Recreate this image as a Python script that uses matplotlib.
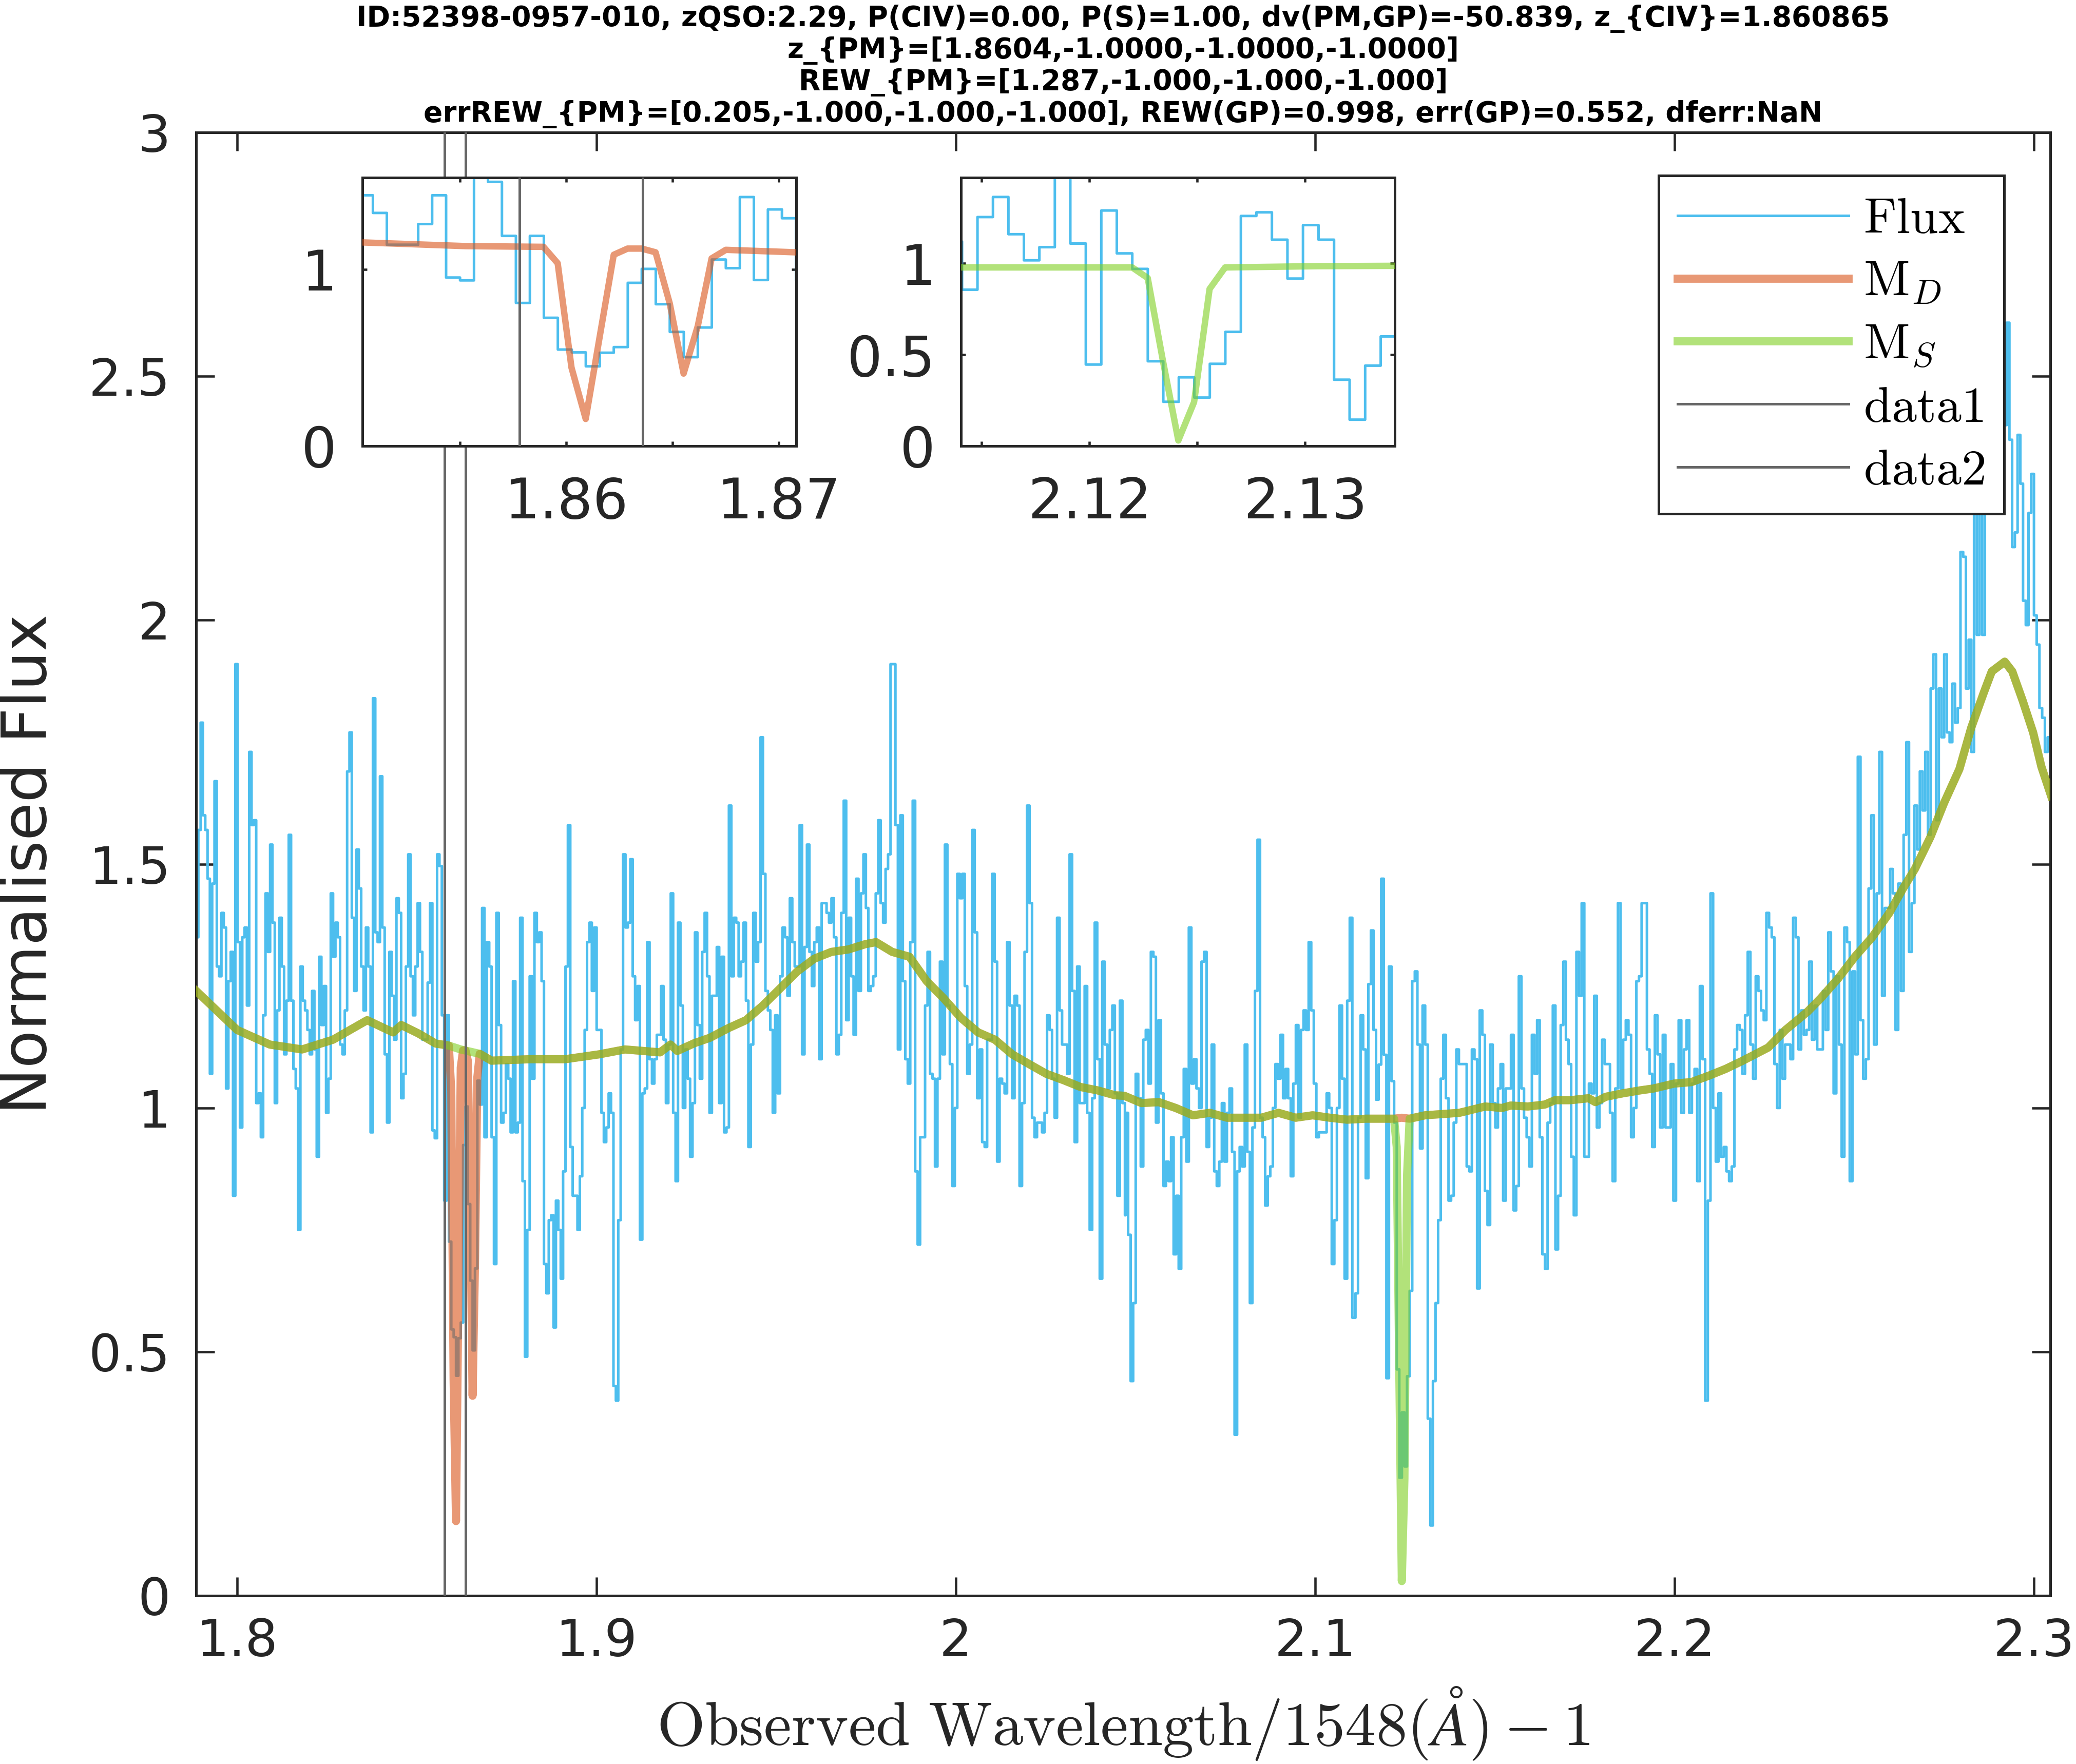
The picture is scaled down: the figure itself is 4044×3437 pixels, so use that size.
import numpy as np
import matplotlib
matplotlib.use("Agg")
import matplotlib.pyplot as plt

plt.rcParams['font.family'] = ['DejaVu Sans']
plt.rcParams['mathtext.fontset'] = 'cm'

# ── data ─────────────────────────────────────────────────────────────────────
# flux segments: start redshift of each segment + normalised flux per pixel
seg_z0 = [1.78857, 1.85303, 1.91799, 1.98320, 2.04726, 2.11122, 2.17620, 2.24130]
z_end = 2.3046

flux_s1 = [1.35, 1.57, 1.79, 1.60, 1.57, 1.47, 1.07, 1.46, 1.67, 1.29,
           1.27, 1.40, 1.37, 1.04, 1.26, 1.32, 0.82, 1.91, 1.34, 0.96,
           1.35, 1.37, 1.21, 1.73, 1.58, 1.59, 1.01, 1.03, 0.94, 1.19,
           1.44, 1.32, 1.54, 1.38, 1.01, 1.20, 1.39, 1.29, 1.11, 1.22,
           1.56, 1.22, 1.08, 1.04, 0.75, 1.29, 1.22, 1.20, 1.16, 1.11,
           1.24, 1.12, 0.90, 1.31, 1.17, 1.25, 0.99, 1.06, 1.44, 1.31,
           1.38, 1.35, 1.13, 1.11, 1.20, 1.69, 1.77, 1.39, 1.24, 1.53,
           1.45, 1.29, 1.20, 1.37, 1.29, 0.95, 1.84, 1.36, 1.34, 1.68,
           1.37, 1.11, 0.97, 1.32, 1.23, 1.14, 1.43, 1.40, 1.02, 1.07,
           1.29, 1.52, 1.27, 1.19, 1.29, 1.42, 1.32, 1.14]
flux_s2 = [1.257, 1.42, 0.954, 0.938, 1.52, 1.496, 1.19, 0.81, 1.19, 0.726,
           0.546, 0.53, 0.451, 0.528, 0.56, 0.924, 1.003, 0.803, 0.646, 0.503,
           0.671, 1.056, 1.007, 1.41, 0.94, 1.34, 1.29, 0.94,
           0.68, 1.40, 1.17, 0.97, 0.99, 1.09, 1.06, 0.95, 1.26, 0.95,
           0.97, 1.39, 0.85, 0.49, 0.75, 1.27, 1.06, 1.40, 1.34, 1.36,
           1.26, 0.68, 0.62, 0.77, 0.78, 0.55, 0.81, 0.75, 0.65, 0.87,
           1.29, 1.58, 0.92, 0.82, 0.82, 0.75, 0.86, 1.00, 1.16, 1.34,
           1.38, 1.24, 1.37, 1.16, 1.16, 0.99, 0.93, 0.96, 1.03, 0.99,
           0.43, 0.40, 0.77, 1.12, 1.52, 1.37, 1.38, 1.51, 1.27, 1.18,
           1.25, 0.73, 1.03, 1.04, 1.34, 1.10, 1.05, 1.10, 1.15]
flux_s3 = [1.25, 1.14, 1.01, 1.13, 1.44, 0.99, 0.85, 1.38, 1.21,
           1.00, 1.12, 1.06, 0.90, 1.01, 1.36, 1.17, 1.06, 1.32, 1.40,
           1.27, 0.99, 1.23, 1.23, 1.33, 1.01, 1.31, 0.95, 0.96, 1.62,
           1.27, 1.39, 1.38, 1.27, 1.30, 1.38, 1.22, 0.92, 1.13, 1.40,
           1.30, 1.34, 1.76, 1.48, 1.24, 1.20, 1.16, 0.99, 1.19, 1.03,
           1.27, 1.37, 1.35, 1.23, 1.43, 1.34, 1.29, 1.29, 1.58, 1.11,
           1.33, 1.54, 1.32, 1.25, 1.34, 1.37, 1.10, 1.42, 1.42, 1.40,
           1.38, 1.43, 1.35, 1.11, 1.15, 1.40, 1.63, 1.18, 1.39, 1.27,
           1.15, 1.47, 1.24, 1.44, 1.52, 1.41, 1.24, 1.25, 1.27, 1.44,
           1.59, 1.42, 1.38, 1.49, 1.52, 1.91]
flux_s4 = [1.58, 1.12, 1.60, 1.26, 1.10, 1.05, 1.34, 1.63, 0.87, 0.72,
           0.94, 0.94, 1.21, 1.32, 1.07, 1.06, 0.88, 1.06, 1.30, 1.11,
           1.54, 1.21, 1.09, 0.84, 1.00, 1.48, 1.43, 1.48, 1.25, 1.07,
           1.13, 1.57, 1.36, 1.02, 1.12, 0.93, 0.92, 1.14, 1.14, 1.48,
           1.30, 0.89, 1.06, 1.05, 1.03, 1.34, 1.21, 1.02, 1.23, 1.21,
           0.84, 1.01, 1.32, 1.62, 1.42, 0.98, 0.94, 0.97, 0.97, 0.95,
           0.99, 1.19, 1.16, 1.06, 0.98, 1.39, 1.20, 1.13, 1.13, 1.07,
           1.52, 1.24, 0.93, 1.29, 1.01, 1.01, 1.25, 0.99, 0.75, 1.02,
           1.38, 1.10, 0.65, 1.30, 1.13, 1.04, 1.16, 1.21, 1.03, 0.82,
           1.22, 1.01, 0.78]
flux_s5 = [0.99, 0.74, 0.44, 0.60, 1.07, 1.02, 0.88, 1.14, 1.16,
           1.05, 1.32, 1.31, 0.97, 1.18, 1.03, 0.84, 0.89, 0.85, 0.94,
           0.70, 0.82, 0.67, 0.94, 1.08, 0.89, 1.37, 1.05, 1.10, 1.04,
           1.00, 1.30, 1.32, 0.92, 0.98, 1.13, 0.87, 0.84, 0.89, 1.01,
           0.89, 0.99, 1.04, 0.91, 0.33, 0.87, 0.92, 0.88, 1.13, 0.91,
           0.60, 0.96, 1.24, 1.55, 0.98, 0.94, 0.80, 0.86, 0.88, 1.00,
           1.09, 1.06, 1.15, 1.02, 1.08, 1.02, 0.86, 1.05, 1.17, 0.98,
           1.16, 1.20, 1.16, 1.34, 1.20, 1.05, 0.94, 0.95, 0.95, 0.95,
           1.03, 1.00, 0.68, 0.77, 1.00, 1.21, 1.06, 0.65, 1.22, 1.39,
           0.57]
flux_s6 = [0.62, 0.98, 1.19, 1.12,
           0.856, 1.254, 1.364, 1.16, 1.017, 1.089, 1.47, 1.109, 0.446, 1.29,
           1.055, 0.97, 0.464, 0.242, 0.376, 0.265, 0.45, 0.625, 1.26, 1.28,
           1.13, 0.917, 1.21, 1.13, 0.363, 0.144, 0.44, 0.60, 0.77,
           1.06, 1.15, 1.02, 0.81, 0.82, 0.97, 1.12, 1.09, 1.09, 1.09,
           0.88, 0.87, 1.12, 1.10, 0.63, 1.20, 1.15, 0.83, 0.76, 1.13,
           1.01, 0.96, 1.04, 1.09, 0.81, 1.04, 1.04, 1.15, 0.79, 0.84,
           1.27, 1.04, 0.98, 0.94, 0.88, 1.15, 1.07, 1.18, 0.94, 0.70,
           0.67, 0.97, 1.01, 1.21, 0.71, 0.82, 1.17, 1.30, 1.14, 1.09,
           0.90, 0.78, 1.32, 1.23, 1.42, 0.90]
flux_s7 = [1.05, 1.03, 1.23, 0.96, 1.01, 1.14, 1.09, 1.09, 0.99, 0.85, 1.04,
           1.42, 1.04, 1.14, 1.18, 1.15, 0.94, 1.00, 1.26, 1.27, 1.42,
           1.42, 1.12, 1.07, 0.92, 1.19, 1.11, 0.96, 1.15, 0.96, 0.96,
           1.09, 0.81, 1.05, 1.18, 0.99, 1.12, 1.18, 0.99, 1.05, 1.08,
           0.85, 1.25, 1.10, 0.40, 0.81, 1.44, 1.00, 0.89, 1.03, 0.90,
           0.92, 0.87, 0.85, 0.88, 1.12, 1.17, 1.16, 1.07, 1.19, 1.32,
           1.13, 1.06, 1.27, 1.24, 1.20, 1.18, 1.40, 1.37, 1.35, 1.09,
           1.00, 1.16, 1.06, 1.13, 1.13, 1.10, 1.39, 1.35, 1.12, 1.20,
           1.15, 1.16, 1.30, 1.14, 1.21, 1.12]
flux_s8 = [1.24, 1.16, 1.36, 1.28, 1.03, 1.27, 1.13, 0.90, 1.37, 1.34,
           0.85, 1.28, 1.11, 1.72, 1.18, 1.06, 1.10, 1.45, 1.60, 1.13,
           1.44, 1.73, 1.23, 1.41, 1.41, 1.49, 1.44, 1.16, 1.46, 1.24,
           1.56, 1.75, 1.32, 1.42, 1.62, 1.53, 1.69, 1.61, 1.73, 1.56,
           1.86, 1.93, 1.59, 1.86, 1.76, 1.93, 1.77, 1.75, 1.87, 1.79,
           1.82, 2.14, 2.13, 1.86, 1.96, 1.73, 2.45, 1.97, 2.35, 1.97,
           2.35, 2.45, 2.30, 2.50, 2.40, 2.55, 2.45, 2.40,
           2.61, 2.37, 2.15, 2.18, 2.38, 2.28, 2.04, 1.99, 2.22, 2.30,
           2.01, 1.95, 1.82, 1.80, 1.73, 1.76]
flux_segments = [flux_s1, flux_s2, flux_s3, flux_s4, flux_s5, flux_s6, flux_s7, flux_s8]

# smooth continuum (shared by both models outside the absorbers)
cont_z = [1.7886, 1.8000, 1.8091, 1.8181, 1.8267, 1.8362, 1.8434, 1.8457, 1.8504, 1.8553,
          1.8589, 1.8622, 1.8675, 1.8708, 1.8817, 1.8913, 1.9008, 1.9079, 1.9177, 1.9206,
          1.9225, 1.9273, 1.9316, 1.9368, 1.9416, 1.9463, 1.9511, 1.9559, 1.9606, 1.9654,
          1.9701, 1.9749, 1.9778, 1.9823, 1.9871, 1.9919, 1.9966, 2.0014, 2.0062, 2.0109,
          2.0157, 2.0204, 2.0252, 2.0300, 2.0347, 2.0395, 2.0443, 2.0469, 2.0517, 2.0565,
          2.0612, 2.0660, 2.0707, 2.0755, 2.0803, 2.0850, 2.0898, 2.0946, 2.0993, 2.1041,
          2.1089, 2.1141, 2.1210, 2.1220, 2.1241, 2.1263, 2.1306, 2.1401, 2.1473, 2.1520,
          2.1544, 2.1592, 2.1639, 2.1668, 2.1711, 2.1761, 2.1780, 2.1809, 2.1856, 2.1904,
          2.1942, 2.1999, 2.2047, 2.2095, 2.2142, 2.2190, 2.2261, 2.2309, 2.2342, 2.2371,
          2.2407, 2.2455, 2.2502, 2.2550, 2.2598, 2.2636, 2.2669, 2.2712, 2.2750, 2.2793,
          2.2826, 2.2860, 2.2883, 2.2919, 2.2940, 2.2969, 2.2998, 2.3021, 2.3048]
cont_f = [1.24, 1.16, 1.13, 1.12, 1.14, 1.18, 1.155, 1.17, 1.153, 1.132,
          1.128, 1.12, 1.111, 1.097, 1.10, 1.10, 1.11, 1.12, 1.114, 1.13,
          1.117, 1.133, 1.144, 1.164, 1.18, 1.21, 1.245, 1.28, 1.306, 1.32,
          1.325, 1.336, 1.34, 1.32, 1.31, 1.26, 1.225, 1.185, 1.155, 1.14,
          1.11, 1.09, 1.07, 1.057, 1.043, 1.036, 1.026, 1.025, 1.01, 1.012,
          1.0, 0.985, 0.99, 0.98, 0.98, 0.98, 0.99, 0.98, 0.985, 0.98,
          0.976, 0.978, 0.978, 0.978, 0.98, 0.978, 0.985, 0.99, 1.003, 1.0,
          1.005, 1.003, 1.007, 1.016, 1.016, 1.02, 1.012, 1.023, 1.03, 1.036,
          1.04, 1.05, 1.053, 1.066, 1.08, 1.097, 1.124, 1.16, 1.18, 1.198,
          1.225, 1.265, 1.31, 1.35, 1.40, 1.45, 1.49, 1.555, 1.625, 1.695,
          1.78, 1.85, 1.895, 1.915, 1.895, 1.835, 1.77, 1.70, 1.64]

# doublet model (M_D) absorption
md_z = [1.85893, 1.8596, 1.86025, 1.86092, 1.86158, 1.86224, 1.86289,
        1.86356, 1.86421, 1.86488, 1.86553, 1.8662, 1.86685, 1.86752]
md_f = [1.128, 1.035, 0.444, 0.153, 0.62, 1.083, 1.118,
        1.118, 1.097, 0.806, 0.41, 0.68, 1.0625, 1.111]
# singlet model (M_S) absorption
ms_z = [2.12198, 2.1227, 2.1234, 2.12412, 2.12485, 2.12557, 2.12629]
ms_f = [0.978, 0.92, 0.47, 0.03, 0.24, 0.86, 0.978]

# marker lines (data1, data2)
vlines_z = [1.8578, 1.8636]

title = ("ID:52398-0957-010, zQSO:2.29, P(CIV)=0.00, P(S)=1.00, dv(PM,GP)=-50.839, z_{CIV}=1.860865\n"
         "z_{PM}=[1.8604,-1.0000,-1.0000,-1.0000]\n"
         "REW_{PM}=[1.287,-1.000,-1.000,-1.000]\n"
         "errREW_{PM}=[0.205,-1.000,-1.000,-1.000], REW(GP)=0.998, err(GP)=0.552, dferr:NaN")

# ── build arrays ─────────────────────────────────────────────────────────────
edges, vals = [], []
for i, seg in enumerate(flux_segments):
    z0 = seg_z0[i]
    z1 = seg_z0[i + 1] if i + 1 < len(seg_z0) else z_end
    e = (1 + z0) * 10 ** (1e-4 * np.arange(len(seg) + 1)) - 1   # SDSS log-lambda pixels
    e[-1] = z1
    edges.extend(e[:-1])
    vals.extend(seg)
edges.append(z_end)
step_x = np.array(edges)
step_y = np.append(vals, vals[-1])


def with_dip(cz, cf, dz, df):
    cz, cf = np.asarray(cz), np.asarray(cf)
    left, right = cz < dz[0], cz > dz[-1]
    return (np.concatenate([cz[left], dz, cz[right]]),
            np.concatenate([cf[left], df, cf[right]]))


mdx, mdy = with_dip(cont_z, cont_f, md_z, md_f)
msx, msy = with_dip(cont_z, cont_f, ms_z, ms_f)

c_flux = (0.302, 0.745, 0.933)
c_md = (0.85, 0.325, 0.098)
c_ms = (0.50, 0.81, 0.13)
c_gray = (0.40, 0.40, 0.40)
c_ax = '#262626'

# ── figure ───────────────────────────────────────────────────────────────────
fig = plt.figure(figsize=(4045 / 300, 3437 / 300), dpi=300)
ax = fig.add_axes([0.0944, 0.0954, 0.8930, 0.8295])

ax.plot(step_x, step_y, drawstyle='steps-post', color=c_flux, lw=1.2, label=r'$\mathrm{Flux}$', zorder=2)
ax.plot(mdx, mdy, color=c_md, alpha=0.6, lw=3.8, label=r'$\mathrm{M}_{D}$', zorder=3)
ax.plot(msx, msy, color=c_ms, alpha=0.6, lw=3.8, label=r'$\mathrm{M}_{S}$', zorder=4)
ax.axvline(vlines_z[0], color=c_gray, lw=1.2, label=r'$\mathrm{data1}$', zorder=5)
ax.axvline(vlines_z[1], color=c_gray, lw=1.2, label=r'$\mathrm{data2}$', zorder=5)

ax.set_xlim(1.78857, z_end)
ax.set_ylim(0, 3)
ax.set_xticks([1.8, 1.9, 2.0, 2.1, 2.2, 2.3])
ax.set_xticklabels(['1.8', '1.9', '2', '2.1', '2.2', '2.3'])
ax.set_yticks([0, 0.5, 1, 1.5, 2, 2.5, 3])
ax.set_yticklabels(['0', '0.5', '1', '1.5', '2', '2.5', '3'])
ax.tick_params(direction='in', top=True, right=True, length=8.6, width=1.1,
               labelsize=24, color=c_ax, labelcolor=c_ax)
ax.tick_params(axis='y', pad=12)
ax.tick_params(axis='x', pad=10)
for s in ax.spines.values():
    s.set_linewidth(1.2)
    s.set_color(c_ax)

ax.set_ylabel('Normalised Flux', fontsize=29, color=c_ax)
ax.yaxis.set_label_coords(-0.074, 0.5)
ax.set_xlabel(r'$\mathrm{Observed\ Wavelength}/1548(\AA)-1$', fontsize=29, color=c_ax)
ax.xaxis.set_label_coords(0.5, -0.061)
ax.set_title(title, fontsize=13.2, fontweight='bold', pad=5, linespacing=1.17)

leg = ax.legend(loc='upper right', bbox_to_anchor=(0.975, 0.9705), borderaxespad=0,
                fontsize=23.5, handlelength=3.4, handletextpad=0.3, borderpad=0.38,
                labelspacing=0.28, fancybox=False, framealpha=1, edgecolor=c_ax)
leg.get_frame().set_linewidth(1.2)
leg.set_zorder(10)

# ── insets ───────────────────────────────────────────────────────────────────
def style_inset(a):
    a.tick_params(direction='in', top=True, right=True, length=2.2, width=1.1,
                  labelsize=26, color=c_ax, labelcolor=c_ax)
    a.tick_params(axis='x', pad=14)
    a.tick_params(axis='y', pad=12)
    for s in a.spines.values():
        s.set_linewidth(1.2)
        s.set_color(c_ax)


ax1 = fig.add_axes([0.1745, 0.7472, 0.2090, 0.1521])
ax1.plot(step_x, step_y, drawstyle='steps-post', color=c_flux, lw=1.2, zorder=2)
ax1.plot(mdx, mdy, color=c_md, alpha=0.6, lw=3.0, zorder=3)
for zv in vlines_z:
    ax1.axvline(zv, color=c_gray, lw=1.2, zorder=5)
ax1.set_xlim(1.8504, 1.87084)
ax1.set_ylim(0, 1.52)
ax1.set_xticks([1.855, 1.86, 1.865, 1.87])
ax1.set_xticklabels(['', '1.86', '', '1.87'])
ax1.set_yticks([0, 1])
ax1.set_yticklabels(['0', '1'])
style_inset(ax1)

ax2 = fig.add_axes([0.4628, 0.7472, 0.2090, 0.1521])
ax2.plot(step_x, step_y, drawstyle='steps-post', color=c_flux, lw=1.2, zorder=2)
ax2.plot(msx, msy, color=c_ms, alpha=0.6, lw=3.0, zorder=3)
ax2.set_xlim(2.11404, 2.13417)
ax2.set_ylim(0, 1.47)
ax2.set_xticks([2.115, 2.12, 2.125, 2.13])
ax2.set_xticklabels(['', '2.12', '', '2.13'])
ax2.set_yticks([0, 0.5, 1])
ax2.set_yticklabels(['0', '0.5', '1'])
style_inset(ax2)

fig.savefig('out.png', dpi=300)
